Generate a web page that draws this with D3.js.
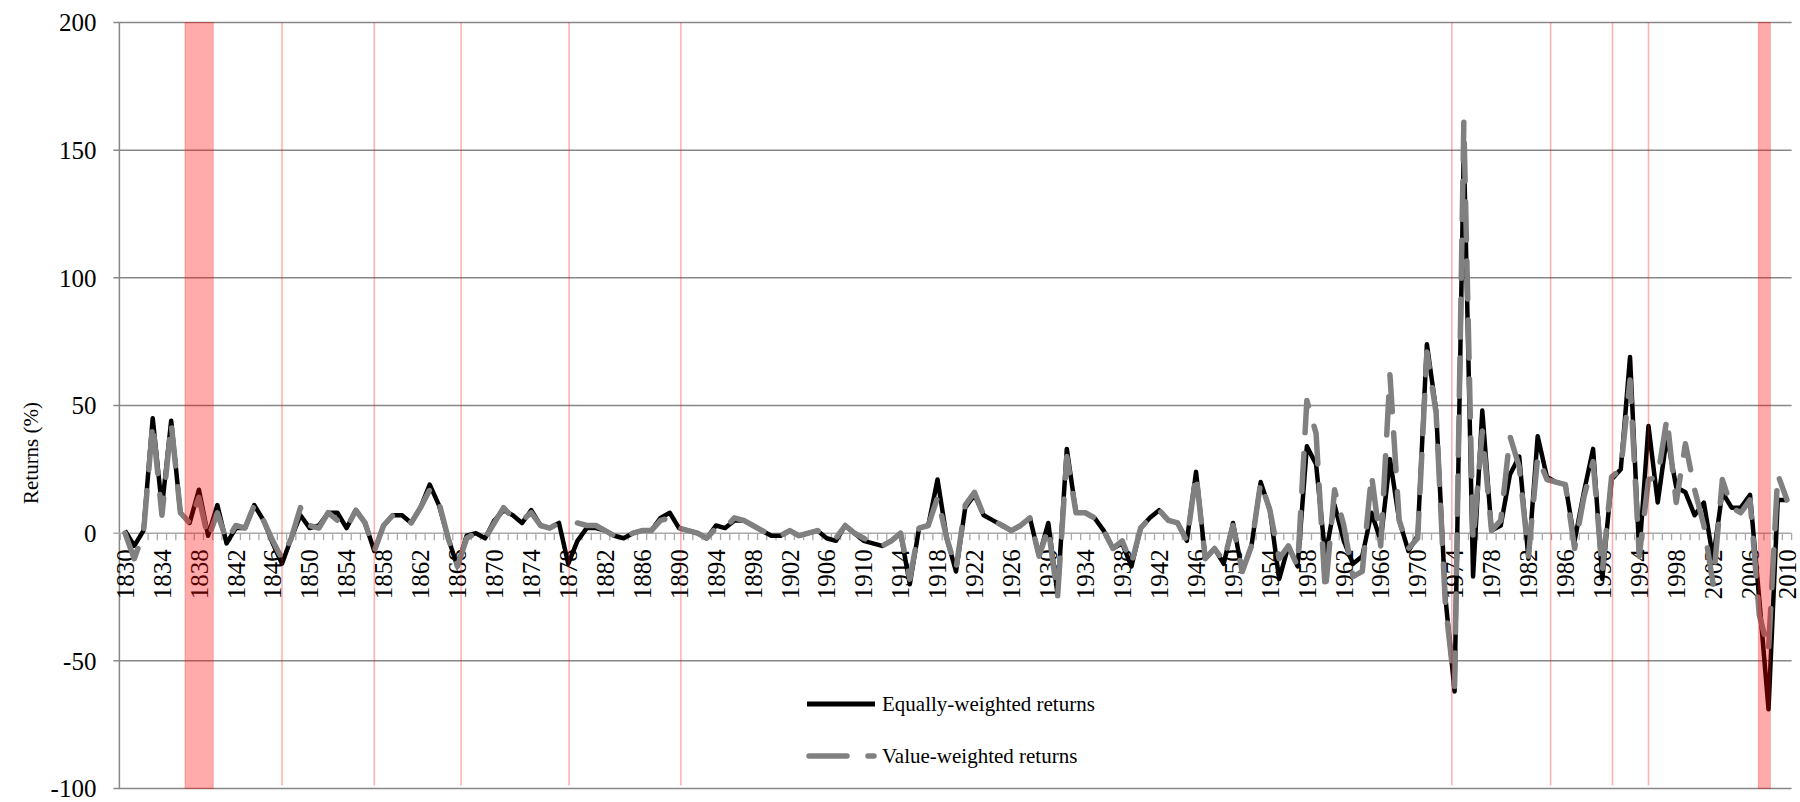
<!DOCTYPE html>
<html>
<head>
<meta charset="utf-8">
<script src="https://cdn.jsdelivr.net/npm/d3@7"></script>
<style>
  body { margin: 0; background: #fff; }
  #wrapper svg { display: block; }
  text { font-family: "Liberation Serif", "Times New Roman", serif; fill: #000; }
</style>
</head>
<body>
<div id="wrapper"></div>
<script>
// years on the category axis
const years = d3.range(1830, 2011)
const tickYears = d3.range(1830, 2011, 4)
const yTicks = [-100, -50, 0, 50, 100, 150, 200]

// equally-weighted returns (%), 1830..2010
const equalWeighted = [
  1, -5, 1, 45, 10, 44, 8, 4, 17, -1,
  11, -4, 2, 2, 11, 5, -4, -12, -2, 7,
  2, 3, 8, 8, 2, 9, 4, -7, 3, 7,
  7, 4, 10, 19, 11, -2, -13, -1, 0, -2,
  5, 9, 7, 4, 9, 3, 2, 4, -12, -3,
  2, 2, 1, -1, -2, 0, 1, 1, 6, 8,
  2, 1, 0, -2, 3, 2, 5, 5, 3, 1,
  -1, -1, 1, -1, 0, 1, -2, -3, 3, 0,
  -3, -4, -5, -3, 0, -20, 2, 3, 21, -2,
  -15, 10, 15, 7, 5, 3, 1, 3, 6, -9,
  4, -24, 33, 8, 8, 6, 1, -6, -4, -13,
  2, 6, 9, 5, 4, -3, 24, -10, -6, -12,
  4, -15, -5, 20, 9, -18, -5, -13, 34, 27,
  -9, 11, -3, -12, -9, 8, -3, 29, 5, -7,
  -1, 74, 48, -25, -62, 152, -17, 48, 1, 3,
  23, 30, -10, 38, 22, 20, 19, -3, 16, 33,
  -18, 21, 25, 69, -8, 42, 12, 38, 18, 16,
  7, 12, -10, 16, 10, 10, 15, -26, -69, 13,
  13
]

// value-weighted returns (%), 1830..2010 (null = no value)
const valueWeighted = [
  0, -10, 0, 43, 7, 43, 8, 4, 14, -2,
  8, -3, 3, 2, 11, 5, -3, -10, -2, 10,
  3, 2, 8, 5, 2, 9, 4, -7, 3, 7,
  7, 4, 10, 17, 12, -2, -13, -2, 0, -2,
  4, 10, 6, 5, 8, 3, 2, 4, null, 4,
  3, 3, 1, -1, -2, 0, 1, 1, 5, 6,
  2, 1, 0, -2, 2, 2, 6, 5, 3, 1,
  -1, -1, 1, -1, 0, 1, -1, -2, 3, 0,
  -2, -4, -5, -3, 0, -18, 2, 3, 14, -2,
  -14, 11, 16, 7, 5, 3, 1, 3, 6, -9,
  2, -25, 30, 8, 8, 6, 1, -6, -3, -12,
  2, 6, 9, 5, 4, -3, 23, -10, -6, -11,
  3, -15, -5, 20, 9, -10, -5, -13, 52, 39,
  -23, 17, 3, -17, -15, 23, -5, 62, 5, -6,
  -2, 71, 47, -28, -60, 161, -3, 40, 1, 5,
  38, 26, -9, 30, 21, 20, 19, -6, 14, 28,
  -15, 22, 25, 60, -9, 21, 22, 45, 12, 35,
  17, 3, -20, 21, 10, 8, 13, -32, -46, 23,
  13
]

// crisis periods (shaded) and single crisis years (thin lines), in year units
const crisisBands = [[1837, 1840.06], [2007.4, 2008.7]]
const crisisLines = [1847.5, 1857.5, 1866.9, 1878.6, 1890.7, 1974.2, 1984.9, 1991.6, 1995.5]

const seriesNames = ["Equally-weighted returns", "Value-weighted returns"]

function drawChart() {

  let dimensions = {
    width: 1800,
    height: 802,
    margins: { top: 22.5, right: 8.4, bottom: 13.5, left: 120.4 },
  }
  dimensions.boundedWidth = dimensions.width
    - dimensions.margins.left
    - dimensions.margins.right
  dimensions.boundedHeight = dimensions.height
    - dimensions.margins.top
    - dimensions.margins.bottom

  const wrapper = d3.select("#wrapper")
    .append("svg")
    .attr("width", dimensions.width)
    .attr("height", dimensions.height)

  const bounds = wrapper.append("g")
    .attr("transform", `translate(${dimensions.margins.left},${dimensions.margins.top})`)

  // scales
  const xScale = d3.scaleBand()
    .domain(years)
    .range([0, dimensions.boundedWidth])
  const xYear = d3.scaleLinear()
    .domain([1830, 2011])
    .range([0, dimensions.boundedWidth])
  const yScale = d3.scaleLinear()
    .domain([-100, 200])
    .range([dimensions.boundedHeight, 0])

  const xCenter = yr => xScale(yr) + xScale.bandwidth() / 2

  // gridlines
  bounds.append("g")
    .selectAll("line")
    .data(yTicks.filter(d => d !== 0))
    .join("line")
    .attr("x1", -7)
    .attr("x2", dimensions.boundedWidth)
    .attr("y1", d => yScale(d))
    .attr("y2", d => yScale(d))
    .attr("stroke", "#878787")
    .attr("stroke-width", 1.5)

  // left axis line
  bounds.append("line")
    .attr("x1", -1).attr("x2", -1)
    .attr("y1", 0).attr("y2", dimensions.boundedHeight)
    .attr("stroke", "#878787")
    .attr("stroke-width", 1.5)

  // y labels
  bounds.append("g")
    .selectAll("text")
    .data(yTicks)
    .join("text")
    .attr("x", -24)
    .attr("y", d => yScale(d))
    .attr("dy", "0.35em")
    .attr("text-anchor", "end")
    .style("font-size", "25px")
    .text(d => d)

  wrapper.append("text")
    .attr("transform", "translate(31,453) rotate(-90)")
    .attr("text-anchor", "middle")
    .attr("dy", "0.35em")
    .style("font-size", "21px")
    .text("Returns (%)")

  // category axis at zero
  const zeroY = yScale(0)
  bounds.append("line")
    .attr("x1", -7).attr("x2", dimensions.boundedWidth)
    .attr("y1", zeroY).attr("y2", zeroY)
    .attr("stroke", "#a9a9a9")
    .attr("stroke-width", 1.5)

  bounds.append("g")
    .selectAll("line")
    .data(years.concat([2011]))
    .join("line")
    .attr("x1", d => xYear(d))
    .attr("x2", d => xYear(d))
    .attr("y1", zeroY)
    .attr("y2", zeroY + 7)
    .attr("stroke", "#a9a9a9")
    .attr("stroke-width", 1.3)

  bounds.append("g")
    .selectAll("text")
    .data(tickYears)
    .join("text")
    .attr("transform", d => `translate(${xCenter(d)},${zeroY + 16}) rotate(-90)`)
    .attr("text-anchor", "end")
    .attr("dy", "0.35em")
    .style("font-size", "25px")
    .text(d => d)

  // lines
  const ewLine = d3.line()
    .x((d, i) => xCenter(years[i]))
    .y(d => yScale(d))
  const vwLine = d3.line()
    .defined(d => d !== null)
    .x((d, i) => xCenter(years[i]))
    .y(d => yScale(d))

  bounds.append("path")
    .datum(equalWeighted)
    .attr("d", ewLine)
    .attr("fill", "none")
    .attr("stroke", "#000")
    .attr("stroke-width", 4.5)
    .attr("stroke-linejoin", "round")

  bounds.append("path")
    .datum(valueWeighted)
    .attr("d", vwLine)
    .attr("fill", "none")
    .attr("stroke", "#808080")
    .attr("stroke-width", 5.5)
    .attr("stroke-linejoin", "round")
    .attr("stroke-linecap", "round")
    .attr("stroke-dasharray", "38,21")

  // crisis shading on top
  bounds.append("g")
    .selectAll("rect")
    .data(crisisBands)
    .join("rect")
    .attr("x", d => xYear(d[0]))
    .attr("width", d => xYear(d[1]) - xYear(d[0]))
    .attr("y", 0)
    .attr("height", dimensions.boundedHeight)
    .attr("fill", "#ff0000")
    .attr("fill-opacity", 0.33)
    .attr("stroke", "#ff0000")
    .attr("stroke-opacity", 0.25)

  bounds.append("g")
    .selectAll("line")
    .data(crisisLines)
    .join("line")
    .attr("x1", d => xYear(d))
    .attr("x2", d => xYear(d))
    .attr("y1", 0)
    .attr("y2", dimensions.boundedHeight - 3)
    .attr("stroke", "#ff0000")
    .attr("stroke-opacity", 0.3)
    .attr("stroke-width", 1.6)

  // legend
  const legend = wrapper.append("g")
  const legendRows = [
    { name: seriesNames[0], y: 704, color: "#000", width: 5, dash: null },
    { name: seriesNames[1], y: 756, color: "#808080", width: 5.5, dash: "38,21" },
  ]
  legendRows.forEach(row => {
    legend.append("line")
      .attr("x1", row.dash ? 809 : 807).attr("x2", row.dash ? 874 : 875)
      .attr("y1", row.y).attr("y2", row.y)
      .attr("stroke", row.color)
      .attr("stroke-width", row.width)
      .attr("stroke-linecap", row.dash ? "round" : "butt")
      .attr("stroke-dasharray", row.dash)
    legend.append("text")
      .attr("x", 882)
      .attr("y", row.y)
      .attr("dy", "0.35em")
      .style("font-size", "21px")
      .text(row.name)
  })
}

drawChart()
</script>
</body>
</html>
